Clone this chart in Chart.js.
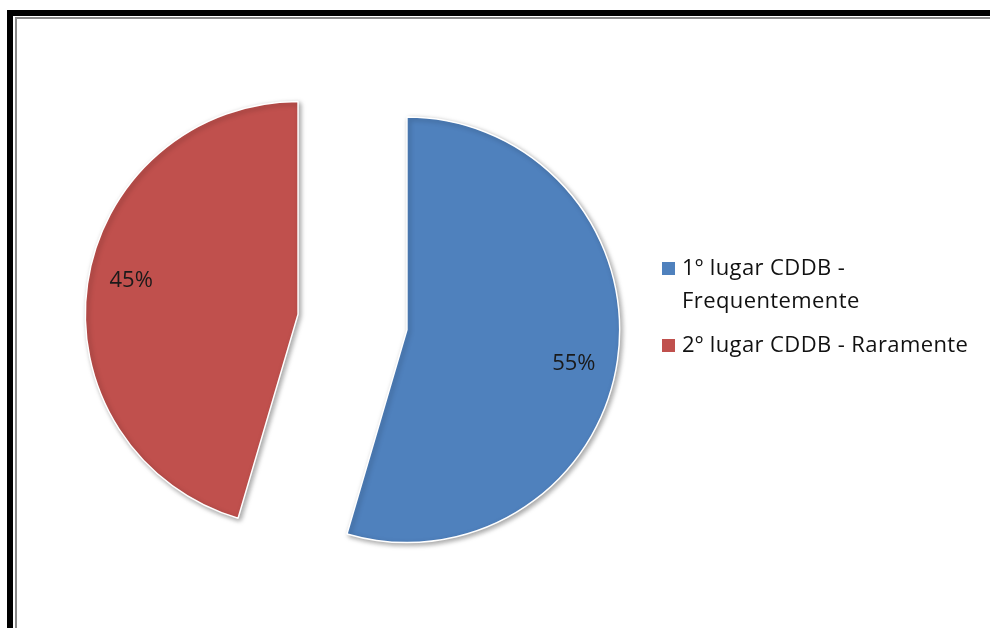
<!DOCTYPE html>
<html>
<head>
<meta charset="utf-8">
<script src="https://cdn.jsdelivr.net/npm/chart.js@4/dist/chart.umd.min.js"></script>
<style>
  html, body { margin: 0; padding: 0; background: #fff; }
  body { width: 990px; height: 628px; position: relative; overflow: hidden; }
  .frame { position: absolute; left: 7px; top: 10px; width: 1000px; height: 640px;
           border-left: 6px solid #000; border-top: 6px solid #000; }
  .frame-inner { position: absolute; left: 2px; top: 1px; width: 1000px; height: 640px;
           border-left: 2px solid #8a8a8a; border-top: 2px solid #8a8a8a; }
  #wrap { position: absolute; left: 0; top: 0; width: 990px; height: 628px; }
  #legend { position: absolute; left: 662px; top: 250px; font-family: "Open Sans", sans-serif;
            font-size: 22px; letter-spacing: 0.4px; color: #111; line-height: 33px; white-space: nowrap; }
  #legend .item { position: relative; padding-left: 20px; margin-bottom: 11px; }
  #legend .sw { position: absolute; left: 0; top: 12px; width: 13px; height: 13px; }
</style>
</head>
<body>
<div class="frame"><div class="frame-inner"></div></div>
<div id="wrap"><canvas id="pie" width="990" height="628"></canvas></div>
<div id="legend"></div>
<script>
// Datos del gráfico
const categorias = ['1º lugar CDDB - Frequentemente', '2º lugar CDDB - Raramente'];
const lineasLeyenda = [['1º lugar CDDB -', 'Frequentemente'], ['2º lugar CDDB - Raramente']];
const valores = [54.55, 45.45];
const colores = ['#4F81BD', '#C0504D'];

const EXPLOSION = 55; // px que se separa cada porción del centro

// Desplazamiento de una porción a lo largo de su ángulo medio
function desplazamiento(p) {
    const mid = (p.startAngle + p.endAngle) / 2;
    return { dx: Math.cos(mid) * EXPLOSION, dy: Math.sin(mid) * EXPLOSION };
}

// Dibuja las porciones separadas (tarta "explotada") con sombra suave
const explotadoPlugin = {
    id: 'explotado',
    beforeDatasetDraw(chart, args) {
        const ctx = chart.ctx;
        args.meta.data.forEach(arc => {
            const d = desplazamiento(arc.getProps(['startAngle', 'endAngle'], true));
            ctx.save();
            ctx.shadowColor = 'rgba(0,0,0,0.35)';
            ctx.shadowBlur = 5;
            ctx.shadowOffsetX = 2;
            ctx.shadowOffsetY = 2;
            ctx.translate(d.dx, d.dy);
            arc.draw(ctx, chart.chartArea);
            ctx.restore();
        });
        return false; // ya dibujado
    }
};

// Etiquetas de porcentaje dentro de cada porción
const etiquetasPlugin = {
    id: 'etiquetas',
    afterDatasetsDraw(chart) {
        const ctx = chart.ctx;
        const meta = chart.getDatasetMeta(0);
        const total = valores.reduce((a, b) => a + b, 0);
        ctx.save();
        ctx.font = '22px "Open Sans", sans-serif';
        ctx.fillStyle = '#1a1a1a';
        ctx.textAlign = 'center';
        ctx.textBaseline = 'middle';
        meta.data.forEach((arc, i) => {
            const p = arc.getProps(['x', 'y', 'startAngle', 'endAngle', 'outerRadius'], true);
            const d = desplazamiento(p);
            const mid = (p.startAngle + p.endAngle) / 2 + 0.055;
            const r = p.outerRadius * 0.8;
            const pct = Math.round(valores[i] / total * 100) + '%';
            ctx.fillText(pct, p.x + d.dx + Math.cos(mid) * r, p.y + d.dy + Math.sin(mid) * r);
        });
        ctx.restore();
    }
};

const chart = new Chart(document.getElementById('pie'), {
    type: 'pie',
    data: {
        labels: categorias,
        datasets: [{
            data: valores,
            backgroundColor: colores,
            borderColor: '#fff',
            borderWidth: 1.5
        }]
    },
    options: {
        responsive: false,
        animation: false,
        layout: { padding: { top: 108, bottom: 92, left: 139, right: 424 } },
        plugins: {
            legend: { display: false },
            tooltip: { enabled: false }
        }
    },
    plugins: [explotadoPlugin, etiquetasPlugin]
});

// Leyenda en HTML
const leyenda = document.getElementById('legend');
categorias.forEach((c, i) => {
    const item = document.createElement('div');
    item.className = 'item';
    const sw = document.createElement('span');
    sw.className = 'sw';
    sw.style.background = colores[i];
    item.appendChild(sw);
    lineasLeyenda[i].forEach(t => {
        const d = document.createElement('div');
        d.textContent = t;
        item.appendChild(d);
    });
    leyenda.appendChild(item);
});
</script>
</body>
</html>
